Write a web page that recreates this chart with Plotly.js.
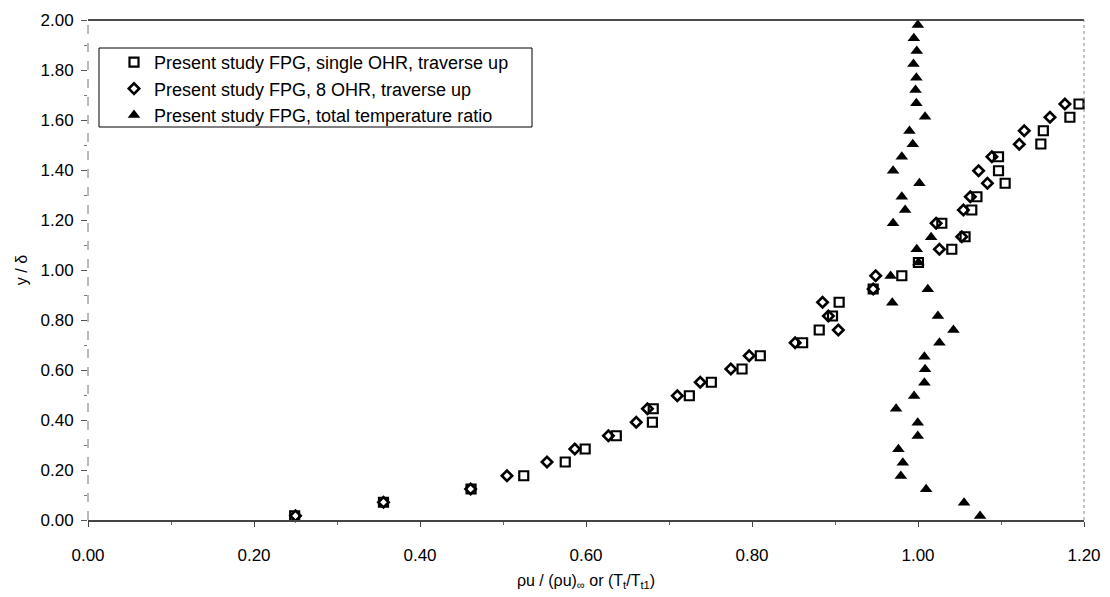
<!DOCTYPE html>
<html>
<head>
<meta charset="utf-8">
<script src="https://cdn.plot.ly/plotly-3.0.1.min.js"></script>
<style>html,body{margin:0;padding:0;background:#fff;}#chart{width:1110px;height:597px;}</style>
</head>
<body>
<div id="chart"></div>
<script>
// Series 1: Present study FPG, single OHR, traverse up (open squares)
const singleY = [0.017,0.071,0.124,0.177,0.232,0.284,0.337,0.391,0.445,0.497,0.551,0.604,0.657,0.709,0.760,0.816,0.871,0.924,0.977,1.030,1.083,1.133,1.187,1.240,1.293,1.347,1.397,1.453,1.504,1.557,1.611,1.664];
const singleX = [0.249,0.356,0.4615,0.525,0.575,0.599,0.6365,0.680,0.681,0.7245,0.751,0.788,0.810,0.861,0.881,0.897,0.905,0.946,0.9805,1.0005,1.0407,1.0567,1.0287,1.0648,1.071,1.105,1.097,1.097,1.148,1.151,1.183,1.194];

// Series 2: Present study FPG, 8 OHR, traverse up (open diamonds)
const eightY = [0.017,0.071,0.124,0.177,0.232,0.284,0.337,0.391,0.445,0.497,0.551,0.604,0.657,0.709,0.760,0.816,0.871,0.924,0.977,1.083,1.133,1.187,1.240,1.293,1.347,1.397,1.453,1.503,1.557,1.611,1.664];
const eightX = [0.250,0.356,0.461,0.5048,0.553,0.5865,0.627,0.6605,0.674,0.710,0.7376,0.7745,0.7966,0.852,0.904,0.892,0.885,0.946,0.949,1.0258,1.0527,1.0218,1.0547,1.063,1.0836,1.073,1.089,1.122,1.128,1.159,1.177];

// Series 3: Present study FPG, total temperature ratio (filled triangles)
const tempY = [0.016,0.069,0.123,0.176,0.229,0.283,0.336,0.389,0.445,0.496,0.549,0.603,0.653,0.709,0.760,0.816,0.869,0.923,0.976,1.030,1.083,1.131,1.187,1.240,1.293,1.347,1.397,1.453,1.503,1.556,1.613,1.667,1.720,1.769,1.824,1.876,1.927,1.980];
const tempX = [1.0748,1.0555,1.0098,0.9793,0.9817,0.9764,0.9997,0.9997,0.9736,0.9953,1.0077,1.0085,1.0077,1.0258,1.0427,1.024,0.969,1.0118,0.967,1.0005,0.9985,1.0158,0.970,0.9845,0.9805,1.0017,0.970,0.9805,0.9937,0.9897,1.0085,0.998,0.997,0.998,0.9945,0.9985,0.995,0.9998];

const seriesNames = [
  "Present study FPG, single OHR, traverse up",
  "Present study FPG, 8 OHR, traverse up",
  "Present study FPG, total temperature ratio"
];

const FONT = "Liberation Sans, Arial, sans-serif";

const traces = [
  {x: singleX, y: singleY, name: seriesNames[0], mode: "markers", type: "scatter", cliponaxis: false,
   marker: {symbol: "square-open", size: 9, color: "#000", line: {width: 2.2, color: "#000"}}},
  {x: eightX, y: eightY, name: seriesNames[1], mode: "markers", type: "scatter", cliponaxis: false,
   marker: {symbol: "diamond-open", size: 8, color: "#000", line: {width: 2.6, color: "#000"}}},
  {x: tempX, y: tempY, name: seriesNames[2], mode: "markers", type: "scatter", cliponaxis: false,
   marker: {symbol: "triangle-up", size: 11, color: "#000", line: {width: 0}}}
];

const L = 88, T = 20, W = 996, H = 500;
function px2x(p){ return (p - L) / W; }
function px2y(p){ return (T + H - p) / H; }

const layout = {
  width: 1110, height: 597,
  margin: {l: L, r: 1110 - L - W, t: T, b: 597 - T - H},
  paper_bgcolor: "#fff", plot_bgcolor: "#fff",
  font: {family: FONT, size: 16, color: "#000"},
  showlegend: true,
  legend: {
    x: px2x(114), y: px2y(44), xanchor: "left", yanchor: "top",
    bgcolor: "rgba(0,0,0,0)", borderwidth: 0,
    font: {family: FONT, size: 18, color: "#000"},
    itemclick: false, tracegroupgap: 0
  },
  xaxis: {
    range: [0, 1.2], dtick: 0.2, tick0: 0, tickformat: ".2f",
    showgrid: false, zeroline: false,
    showline: true, linecolor: "#444", linewidth: 2,
    ticks: "outside", ticklen: 5, tickcolor: "#444", tickwidth: 1,
    ticklabelstandoff: 14,
    minor: {dtick: 0.1, ticks: "outside", ticklen: 3, tickcolor: "#666"},
    tickfont: {family: FONT, size: 17, color: "#000"},
    title: {text: "ρu / (ρu)<sub>∞</sub> or (T<sub>t</sub>/T<sub>t1</sub>)", font: {family: FONT, size: 16, color: "#000"}, standoff: 10}
  },
  yaxis: {
    range: [0, 2], dtick: 0.2, tick0: 0, tickformat: ".2f",
    showgrid: false, zeroline: false, showline: false,
    ticks: "outside", ticklen: 6, tickcolor: "#555", tickwidth: 1,
    ticklabelstandoff: 4,
    minor: {dtick: 0.1, ticks: "outside", ticklen: 3, tickcolor: "#777"},
    tickfont: {family: FONT, size: 17, color: "#000"},
    title: {text: "y / δ", font: {family: FONT, size: 16, color: "#000"}, standoff: 8}
  },
  shapes: [
    {type: "line", xref: "paper", yref: "paper", x0: 0, x1: 1, y0: 1, y1: 1, line: {color: "#111", width: 1.5}},
    {type: "line", xref: "paper", yref: "paper", x0: 0, x1: 0, y0: 0, y1: 1, line: {color: "#777", width: 1, dash: "dash"}},
    {type: "line", xref: "paper", yref: "paper", x0: 1, x1: 1, y0: 0, y1: 1, line: {color: "#888", width: 1, dash: "dot"}},
    {type: "rect", xref: "paper", yref: "paper", x0: px2x(99), x1: px2x(532), y0: px2y(127), y1: px2y(48),
     line: {color: "#000", width: 1}, fillcolor: "#fff", layer: "below"}
  ]
};

Plotly.newPlot("chart", traces, layout, {staticPlot: true, displayModeBar: false});
</script>
</body>
</html>
